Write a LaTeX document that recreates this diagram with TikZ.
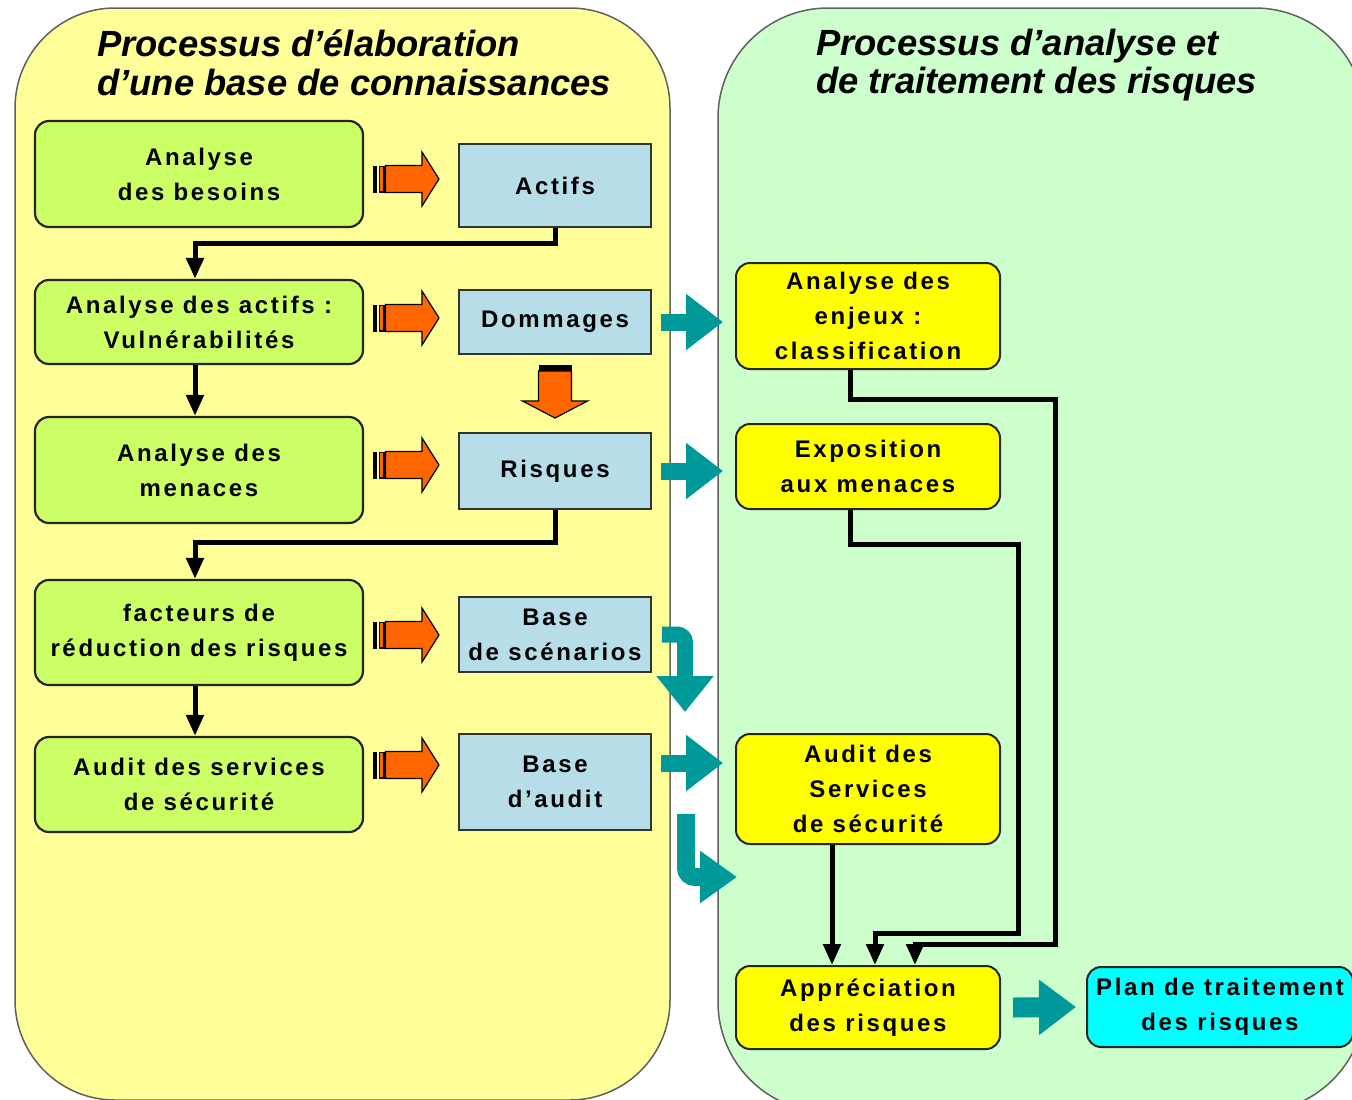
\documentclass[tikz,border=0pt]{standalone}
\usepackage{fontspec}
\setmainfont{Liberation Sans}
\newfontfamily\boxfont{Liberation Sans}[LetterSpace=11]
\usetikzlibrary{arrows.meta,calc}
\definecolor{panelY}{HTML}{FFFF99}
\definecolor{panelG}{HTML}{CCFFCC}
\definecolor{boxG}{HTML}{CCFF66}
\definecolor{boxB}{HTML}{B7DDE8}
\definecolor{boxY}{HTML}{FFFF00}
\definecolor{boxC}{HTML}{00FFFF}
\definecolor{orangeA}{HTML}{FF6600}
\definecolor{tealA}{HTML}{009999}
\definecolor{panelLine}{HTML}{606060}
\tikzset{
  panel/.style={draw=panelLine, line width=1.5pt},
  basebox/.style={align=center, inner sep=0pt, text=black,
    font=\boxfont\bfseries\fontsize{24}{35}\selectfont},
  gbox/.style={basebox, draw=black!85, line width=2.2pt, fill=boxG, rounded corners=14pt, minimum width=328pt},
  bbox/.style={basebox, draw=black!80, line width=1.5pt, fill=boxB, minimum width=192pt},
  ybox/.style={basebox, draw=black!85, line width=2pt, fill=boxY, rounded corners=14pt, minimum width=264pt},
  cbox/.style={basebox, draw=black!85, line width=2pt, fill=boxC, rounded corners=14pt, minimum width=266pt},
  ttl/.style={anchor=base west, inner sep=0pt, font=\bfseries\itshape\fontsize{36.4}{40}\selectfont},
  conn/.style={draw=black, line width=5pt, -{Triangle[width=17pt,length=21pt]}},
  tealarr/.style={draw=tealA, line width=17pt, -{Triangle[width=54pt,length=37pt]}},
  orarrow/.pic={
    \fill[black] (0,-13.5) rectangle (3.5,13.5);
    \fill[black] (6,-13.5) rectangle (12.5,13.5);
    \fill[orangeA] (7.2,-12.3) rectangle (9.5,12.3);
    \draw[black, line width=1.2pt, fill=orangeA] (12.5,-13.5) -- (49,-13.5) -- (49,-27) -- (66,0) -- (49,27) -- (49,13.5) -- (12.5,13.5) -- cycle;
  },
  ordown/.pic={
    \fill[black] (-16.5,0) rectangle (16.5,6);
    \draw[black, line width=1.2pt, fill=orangeA] (-16.5,6) -- (16.5,6) -- (16.5,36) -- (32.5,36) -- (0,53) -- (-32.5,36) -- (-16.5,36) -- cycle;
  }
}
\begin{document}
\begin{tikzpicture}[x=1pt,y=-1pt]
\useasboundingbox (0,0) rectangle (1352,1100);
% panels
\draw[panel, fill=panelY, rounded corners=100pt] (15,8) rectangle (670,1100);
\draw[panel, fill=panelG, rounded corners=110pt] (718,8) rectangle (1365,1112);
% titles
\node[ttl] (t1a) at (97,56) {Processus d’élaboration};
\node[ttl] (t1b) at (97,95) {d’une base de connaissances};
\node[ttl] (t2a) at (816,55) {Processus d’analyse et};
\node[ttl] (t2b) at (816,93) {de traitement des risques};
% left green boxes
\node[gbox, minimum height=106pt] (b1) at (199,174) {Analyse\\des besoins};
\node[gbox, minimum height=84pt] (b2) at (199,322) {Analyse des actifs :\\Vulnérabilités};
\node[gbox, minimum height=106pt] (b3) at (199,470) {Analyse des\\menaces};
\node[gbox, minimum height=105pt] (b4) at (199,632.5) {facteurs de\\réduction des risques};
\node[gbox, minimum height=95pt] (b5) at (199,784.5) {Audit des services\\de sécurité};
% blue boxes
\node[bbox, minimum height=83pt] (act) at (555,185.5) {Actifs};
\node[bbox, minimum height=64pt] (dom) at (555,322) {Dommages};
\node[bbox, minimum height=76pt] (ris) at (555,471) {Risques};
\node[bbox, minimum height=75pt] (sce) at (555,634.5) {Base\\de scénarios};
\node[bbox, minimum height=96pt] (aud) at (555,782) {Base\\d’audit};
% right boxes
\node[ybox, minimum height=106pt] (enj) at (868,316) {Analyse des\\enjeux :\\classification};
\node[ybox, minimum height=85pt] (expo) at (868,466.5) {Exposition\\aux menaces};
\node[ybox, minimum height=110pt] (aus) at (868,789) {Audit des\\Services\\de sécurité};
\node[ybox, minimum height=83pt] (app) at (868,1007.5) {Appréciation\\des risques};
\node[cbox, minimum height=80pt] (plan) at (1220,1007) {Plan de traitement\\des risques};
% orange arrows
\pic at (373,179) {orarrow};
\pic at (373,318) {orarrow};
\pic at (373,465) {orarrow};
\pic at (373,635) {orarrow};
\pic at (373,765) {orarrow};
\pic at (555,365) {ordown};
% black connectors left
\draw[conn] (act.south) -- ++(0,16) -| ([xshift=-4pt]b2.north);
\draw[conn] ([xshift=-4pt]b2.south) -- ([xshift=-4pt]b3.north);
\draw[conn] (ris.south) -- ++(0,33) -| ([xshift=-4pt]b4.north);
\draw[conn] ([xshift=-4pt]b4.south) -- ([xshift=-4pt]b5.north);
% black connectors right
\draw[conn] ([xshift=-18pt]enj.south) -- ++(0,29) -- ++(205,0) -- ++(0,545) -| ([xshift=47pt]app.north);
\draw[conn] ([xshift=-18pt]expo.south) -- ++(0,34) -- ++(168,0) -- ++(0,389) -| ([xshift=7pt]app.north);
\draw[conn] ([xshift=-36pt]aus.south) -- ([xshift=-36pt]app.north);
% teal arrows
\draw[tealarr] ($(dom.east)+(9,0)$) -- ($(dom.east -| enj.west)+(-12,0)$);
\draw[tealarr] ($(ris.east)+(9,0)$) -- ($(ris.east -| expo.west)+(-12,0)$);
\draw[tealarr] ($(aud.east)+(9,-19)$) -- ($(aud.east -| aus.west)+(-12,-19)$);
\draw[tealarr, line width=20pt, -{Triangle[width=53pt,length=37pt]}] ($(app.east)+(12,0)$) -- ($(plan.west)+(-10,0)$);
\coordinate (scebend) at (685,634.5);
\coordinate (scetip) at (685,712);
\draw[tealarr, line width=16pt, rounded corners=8pt, -{Triangle[width=55pt,length=36pt]}] ($(sce.east)+(10,0)$) -- (scebend) -- (scetip);
\coordinate (audstart) at (686,814);
\coordinate (audbend) at (686,877);
\coordinate (audtip) at (737,877);
\draw[tealarr, line width=18pt, rounded corners=9pt, -{Triangle[width=50pt,length=37pt]}] (audstart) -- (audbend) -- (audtip);
\end{tikzpicture}
\end{document}
